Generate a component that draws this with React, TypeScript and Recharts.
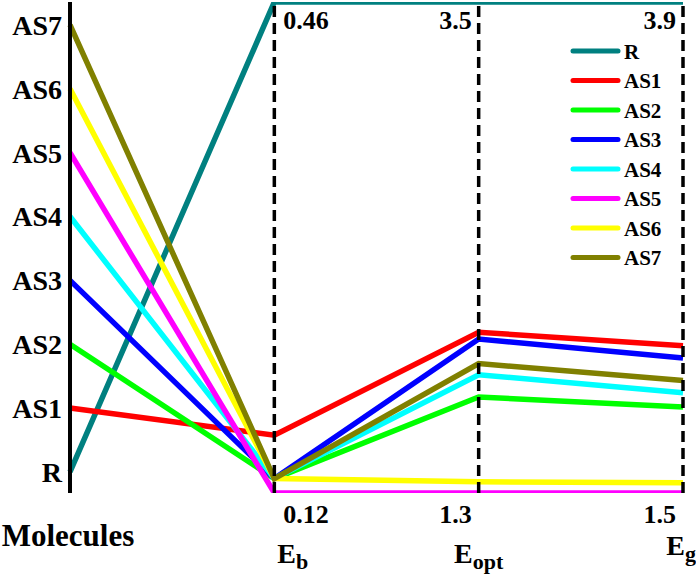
import React from 'react';
import { LineChart, Line, XAxis, YAxis, ReferenceLine, Legend } from 'recharts';

const molecules = ['R', 'AS1', 'AS2', 'AS3', 'AS4', 'AS5', 'AS6', 'AS7'];
const colors = ['#008080', '#ff0000', '#00ff00', '#0000ff', '#00ffff', '#ff00ff', '#ffff00', '#808000'];
const ebValues = [0.46, 0.16, 0.13, 0.13, 0.13, 0.12, 0.13, 0.13];
const eoptValues = [3.5, 2.02, 1.73, 1.99, 1.83, 1.3, 1.35, 1.88];
const egValues = [3.9, 2.22, 1.92, 2.16, 1.99, 1.5, 1.55, 2.05];
const ebRange = [0.12, 0.46];
const eoptRange = [1.3, 3.5];
const egRange = [1.5, 3.9];
const axisLabels = ['Molecules', 'E|b', 'E|opt', 'E|g'];
const minLabels = ['', '0.12', '1.3', '1.5'];
const maxLabels = ['', '0.46', '3.5', '3.9'];

const MOL_MIN = -0.33;
const MOL_MAX = 7.36;
const FONT = '"Liberation Serif", "Times New Roman", serif';

const toMol = (v: number, r: number[]) => MOL_MIN + ((v - r[0]) / (r[1] - r[0])) * (MOL_MAX - MOL_MIN);

const data = [0, 1, 2, 3].map((pos) => {
  const row: any = { pos };
  molecules.forEach((m, i) => {
    row[m] =
      pos === 0 ? i : pos === 1 ? toMol(ebValues[i], ebRange) : pos === 2 ? toMol(eoptValues[i], eoptRange) : toMol(egValues[i], egRange);
  });
  return row;
});

const XTick = (props: any) => {
  const { x, y, payload } = props;
  const idx = payload.value as number;
  if (idx === 0) {
    return (
      <text x={x - 2} y={y + 53} textAnchor="middle" fontFamily={FONT} fontWeight="bold" fontSize={31} fill="#000">
        Molecules
      </text>
    );
  }
  const [main, sub] = axisLabels[idx].split('|');
  const anchor = idx === 1 ? 'start' : idx === 2 ? 'middle' : 'end';
  const tx = idx === 1 ? x + 3 : idx === 2 ? x : x + 13;
  const base = idx === 3 ? y + 62 : y + 70;
  return (
    <text x={tx} y={base} textAnchor={anchor} fontFamily={FONT} fontWeight="bold" fontSize={28} fill="#000">
      {main}
      <tspan fontSize={22} dy={6}>{sub}</tspan>
    </text>
  );
};

const makeRefLabel = (idx: number) => (props: any) => {
  const vb = props.viewBox || {};
  const x = vb.x;
  const top = vb.y;
  const bottom = vb.y + vb.height;
  const anchor = idx === 1 ? 'start' : 'end';
  const tx = idx === 1 ? x + 9 : x - 7;
  return (
    <g>
      <text x={tx} y={top + 27} textAnchor={anchor} fontFamily={FONT} fontWeight="bold" fontSize={26} fill="#000">
        {maxLabels[idx]}
      </text>
      <text x={tx} y={bottom + 30} textAnchor={anchor} fontFamily={FONT} fontWeight="bold" fontSize={26} fill="#000">
        {minLabels[idx]}
      </text>
    </g>
  );
};

const LegendBox = () => (
  <svg width={120} height={250}>
    {molecules.map((m, i) => {
      const cy = 15 + 29.5 * i;
      return (
        <g key={m}>
          <line x1={5} x2={50} y1={cy} y2={cy} stroke={colors[i]} strokeWidth={5} strokeLinecap="round" />
          <text x={56} y={cy + 7.5} fontFamily={FONT} fontWeight="bold" fontSize={21} fill="#000">
            {m}
          </text>
        </g>
      );
    })}
  </svg>
);

export default function App() {
  return (
    <div style={{ position: 'absolute', left: 0, top: 0, width: 696, height: 580, background: '#fff' }}>
      <LineChart width={696} height={580} data={data} margin={{ top: 2, right: 13, bottom: 0, left: 0 }}>
        <XAxis
          dataKey="pos"
          type="number"
          domain={[0, 3]}
          ticks={[0, 1, 2, 3]}
          axisLine={false}
          tickLine={false}
          tickSize={0}
          tickMargin={0}
          height={87}
          tick={<XTick />}
          interval={0}
        />
        <YAxis
          type="number"
          domain={[MOL_MIN, MOL_MAX]}
          ticks={[0, 1, 2, 3, 4, 5, 6, 7]}
          tickFormatter={(v: number) => molecules[v]}
          width={70}
          axisLine={{ stroke: '#000', strokeWidth: 4 }}
          tickLine={false}
          tickSize={0}
          tickMargin={8}
          tick={{ fontFamily: FONT, fontWeight: 'bold', fontSize: 28, fill: '#000' }}
          allowDataOverflow
        />
        {molecules.map((m, i) => (
          <Line
            key={m}
            dataKey={m}
            type="linear"
            stroke={colors[i]}
            strokeWidth={5.5}
            dot={false}
            activeDot={false}
            isAnimationActive={false}
          />
        ))}
        {[1, 2, 3].map((p) => (
          <ReferenceLine key={p} x={p} stroke="#000" strokeWidth={3.5} strokeDasharray="11 6" label={makeRefLabel(p)} />
        ))}
        <Legend
          layout="vertical"
          align="center"
          verticalAlign="middle"
          content={<LegendBox />}
          wrapperStyle={{ position: 'absolute', left: 568, top: 36, width: 120, height: 250 }}
        />
      </LineChart>
    </div>
  );
}
